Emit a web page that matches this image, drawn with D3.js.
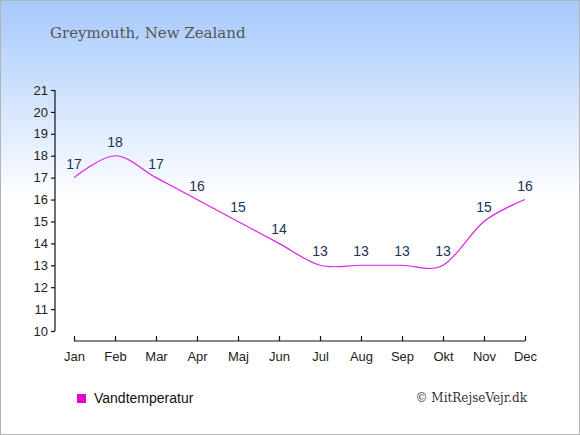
<!DOCTYPE html>
<html>
<head>
<meta charset="utf-8">
<script src="https://cdn.jsdelivr.net/npm/d3@7"></script>
<style>
  body { margin: 0; }
  svg { display: block; }
</style>
</head>
<body>
<div id="container"></div>
<script>
/* CONSTANTS AND GLOBALS */
const width = 580,
  height = 435,
  margin = {top: 90, bottom: 94, left: 55, right: 55};

// data
const months = ["Jan", "Feb", "Mar", "Apr", "Maj", "Jun", "Jul", "Aug", "Sep", "Okt", "Nov", "Dec"];
const waterTemp = [17, 18, 17, 16, 15, 14, 13, 13, 13, 13, 15, 16];
const yTicks = [10, 11, 12, 13, 14, 15, 16, 17, 18, 19, 20, 21];

const lineColor = "#e020e0";

const svg = d3.select("#container")
  .append("svg")
  .attr("width", width)
  .attr("height", height);

// background gradient
const defs = svg.append("defs");
const grad = defs.append("linearGradient")
  .attr("id", "bg")
  .attr("x1", 0).attr("y1", 0).attr("x2", 0).attr("y2", 1);
grad.append("stop").attr("offset", "0").attr("stop-color", "#a6c9fc");
grad.append("stop").attr("offset", "0.46").attr("stop-color", "#ffffff");
grad.append("stop").attr("offset", "1").attr("stop-color", "#ffffff");

svg.append("rect")
  .attr("x", 0.5).attr("y", 0.5)
  .attr("width", width - 1).attr("height", height - 1)
  .attr("fill", "url(#bg)")
  .attr("stroke", "#b4b4b4");

/* SCALES */
const xScale = d3.scalePoint()
  .domain(months)
  .range([74, 525]);

const yScale = d3.scaleLinear()
  .domain([10, 21])
  .range([331, 90]);

/* AXES */
const yAxis = d3.axisLeft(yScale)
  .tickValues(yTicks)
  .tickFormat(d3.format("d"))
  .tickSize(4)
  .tickPadding(3);

const xAxis = d3.axisBottom(xScale)
  .tickSize(-5)
  .tickPadding(11);

const yAxisGroup = svg.append("g")
  .attr("transform", `translate(55,0)`)
  .call(yAxis);

const xAxisGroup = svg.append("g")
  .attr("transform", `translate(0,341)`)
  .call(xAxis);

[yAxisGroup, xAxisGroup].forEach(g => {
  g.select(".domain").attr("stroke", "#111").attr("stroke-width", 1.2);
  g.selectAll(".tick line").attr("stroke", "#111").attr("stroke-width", 1.2);
  g.selectAll("text")
    .attr("fill", "#222")
    .style("font-family", "'Liberation Sans', Arial, sans-serif")
    .style("font-size", "13px");
});
// no outer ticks, draw plain lines
yAxisGroup.select(".domain").attr("d", `M0,${yScale(21)}V${yScale(10)}`);
xAxisGroup.select(".domain").attr("d", `M${xScale("Jan")},0H${xScale("Dec")}`);

/* LINE */
const line = d3.line()
  .x((d, i) => xScale(months[i]))
  .y(d => yScale(d))
  .curve(d3.curveCardinal.tension(0));

svg.append("path")
  .datum(waterTemp)
  .attr("d", line)
  .attr("fill", "none")
  .attr("stroke", lineColor)
  .attr("stroke-width", 1.2);

// value labels
svg.selectAll("text.value")
  .data(waterTemp)
  .join("text")
  .attr("class", "value")
  .attr("x", (d, i) => xScale(months[i]))
  .attr("y", d => yScale(d) - 9)
  .attr("text-anchor", "middle")
  .attr("fill", "#1c3458")
  .style("font-family", "'Liberation Sans', Arial, sans-serif")
  .style("font-size", "14px")
  .text(d => d);

/* TITLE */
svg.append("text")
  .attr("x", 50)
  .attr("y", 38)
  .attr("fill", "#555")
  .style("font-family", "'DejaVu Serif', Georgia, serif")
  .style("font-size", "15px")
  .text("Greymouth, New Zealand");

/* LEGEND */
svg.append("rect")
  .attr("x", 77).attr("y", 394)
  .attr("width", 9).attr("height", 9)
  .attr("fill", "#e000d0");

svg.append("text")
  .attr("x", 94)
  .attr("y", 403)
  .attr("fill", "#111")
  .style("font-family", "'Liberation Sans', Arial, sans-serif")
  .style("font-size", "14px")
  .text("Vandtemperatur");

svg.append("text")
  .attr("x", 527)
  .attr("y", 402)
  .attr("text-anchor", "end")
  .attr("fill", "#333")
  .style("font-family", "'DejaVu Serif', Georgia, serif")
  .style("font-size", "12px")
  .text("© MitRejseVejr.dk");
</script>
</body>
</html>
